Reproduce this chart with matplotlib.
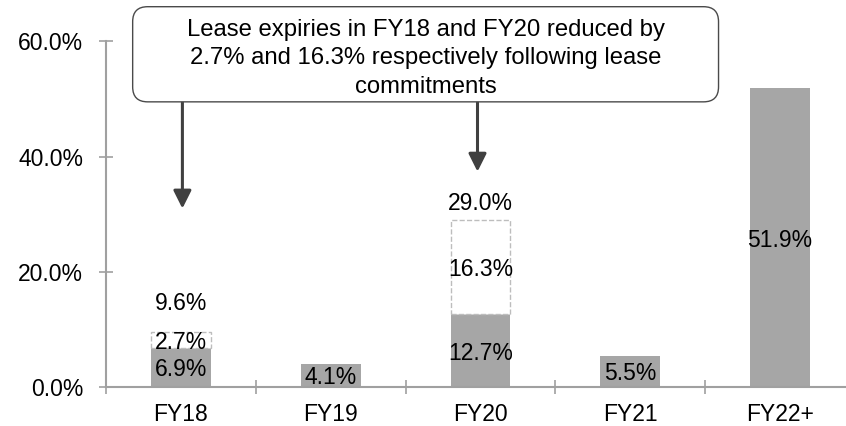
import numpy as np
import matplotlib.pyplot as plt
from matplotlib.patches import FancyBboxPatch

plt.rcParams['font.family'] = ['Liberation Sans', 'DejaVu Sans']

years = ['FY18', 'FY19', 'FY20', 'FY21', 'FY22+']
remaining = [6.9, 4.1, 12.7, 5.5, 51.9]   # expiries after commitments
committed = [2.7, 0, 16.3, 0, 0]           # reduction from lease commitments
total_labels = ['9.6%', '', '29.0%', '', '']
note = 'Lease expiries in FY18 and FY20 reduced by\n2.7% and 16.3% respectively following lease\ncommitments'

grey = '#A6A6A6'
axis_grey = '#A0A0A0'
fs = 16.5

fig = plt.figure(figsize=(8.46, 4.26), dpi=100)
ax = fig.add_axes([106 / 846, 1 - 387.3 / 426, 749 / 846, 346 / 426])

x = np.arange(len(years))
remaining = np.array(remaining)
committed = np.array(committed)
total = remaining + committed

ax.bar(x, remaining, width=0.4, color=grey, zorder=2)
has_c = committed > 0
ax.bar(x[has_c], committed[has_c], bottom=remaining[has_c], width=0.4,
       facecolor='white', edgecolor='#BDBDBD', linestyle='--', linewidth=1.0, zorder=2)

# values in the middle of each segment
for i in range(len(years)):
    ax.text(x[i], remaining[i] / 2, f'{remaining[i]:.1f}%', ha='center',
            va='center_baseline', fontsize=fs, zorder=3)
    if committed[i] > 0:
        ax.text(x[i], remaining[i] + committed[i] / 2, f'{committed[i]:.1f}%',
                ha='center', va='center_baseline', fontsize=fs, zorder=3)

# totals before the commitments
offsets = [22, 0, 14, 0, 0]
for i in range(len(years)):
    if total_labels[i]:
        ax.annotate(total_labels[i], (x[i], total[i]), xytext=(0, offsets[i]),
                    textcoords='offset points', ha='center', va='center_baseline',
                    fontsize=fs)

ax.set_xlim(-0.5, 4.5)
ax.set_ylim(0, 60)
ax.set_yticks([0, 20, 40, 60])
ax.set_yticklabels(['0.0%', '20.0%', '40.0%', '60.0%'])
ax.set_xticks(x)
ax.set_xticklabels(years)
ax.set_xticks(np.arange(-0.5, 5, 1), minor=True)
ax.tick_params(axis='x', which='major', length=0, pad=11, labelsize=fs)
ax.tick_params(axis='x', which='minor', direction='inout', length=9.6,
               width=1.2, color=axis_grey)
ax.tick_params(axis='y', direction='inout', length=9.6, width=1.2,
               color=axis_grey, pad=11.5, labelsize=fs)
for s in ['top', 'right']:
    ax.spines[s].set_visible(False)
for s in ['left', 'bottom']:
    ax.spines[s].set_color(axis_grey)
    ax.spines[s].set_linewidth(1.5)

# callout box above the bars
bx0, bx1, by0, by1 = -0.322, 3.589, 49.5, 66.0
bbox = ax.get_window_extent()
aspect = (5 / bbox.width) / (60 / bbox.height)
box = FancyBboxPatch((bx0, by0), bx1 - bx0, by1 - by0,
                     boxstyle='round,pad=0,rounding_size=0.1',
                     mutation_aspect=1 / aspect,
                     facecolor='white', edgecolor='#4A4A4A', linewidth=1.0,
                     clip_on=False, zorder=4)
ax.add_patch(box)
ax.text((bx0 + bx1) / 2, (by0 + by1) / 2 - 0.7, note, ha='center', va='center',
        fontsize=17.2, linespacing=1.4, zorder=5)

# arrows from the box down to FY18 and FY20
for xi, tip in [(0.01, 31.0), (1.98, 37.4)]:
    ax.annotate('', xy=(xi, tip), xytext=(xi, by0),
                arrowprops=dict(arrowstyle='-|>,head_length=10.8,head_width=5.4',
                                mutation_scale=1, color='#404040', lw=2.2,
                                shrinkA=0, shrinkB=0))

fig.savefig('out.png', dpi=100)
